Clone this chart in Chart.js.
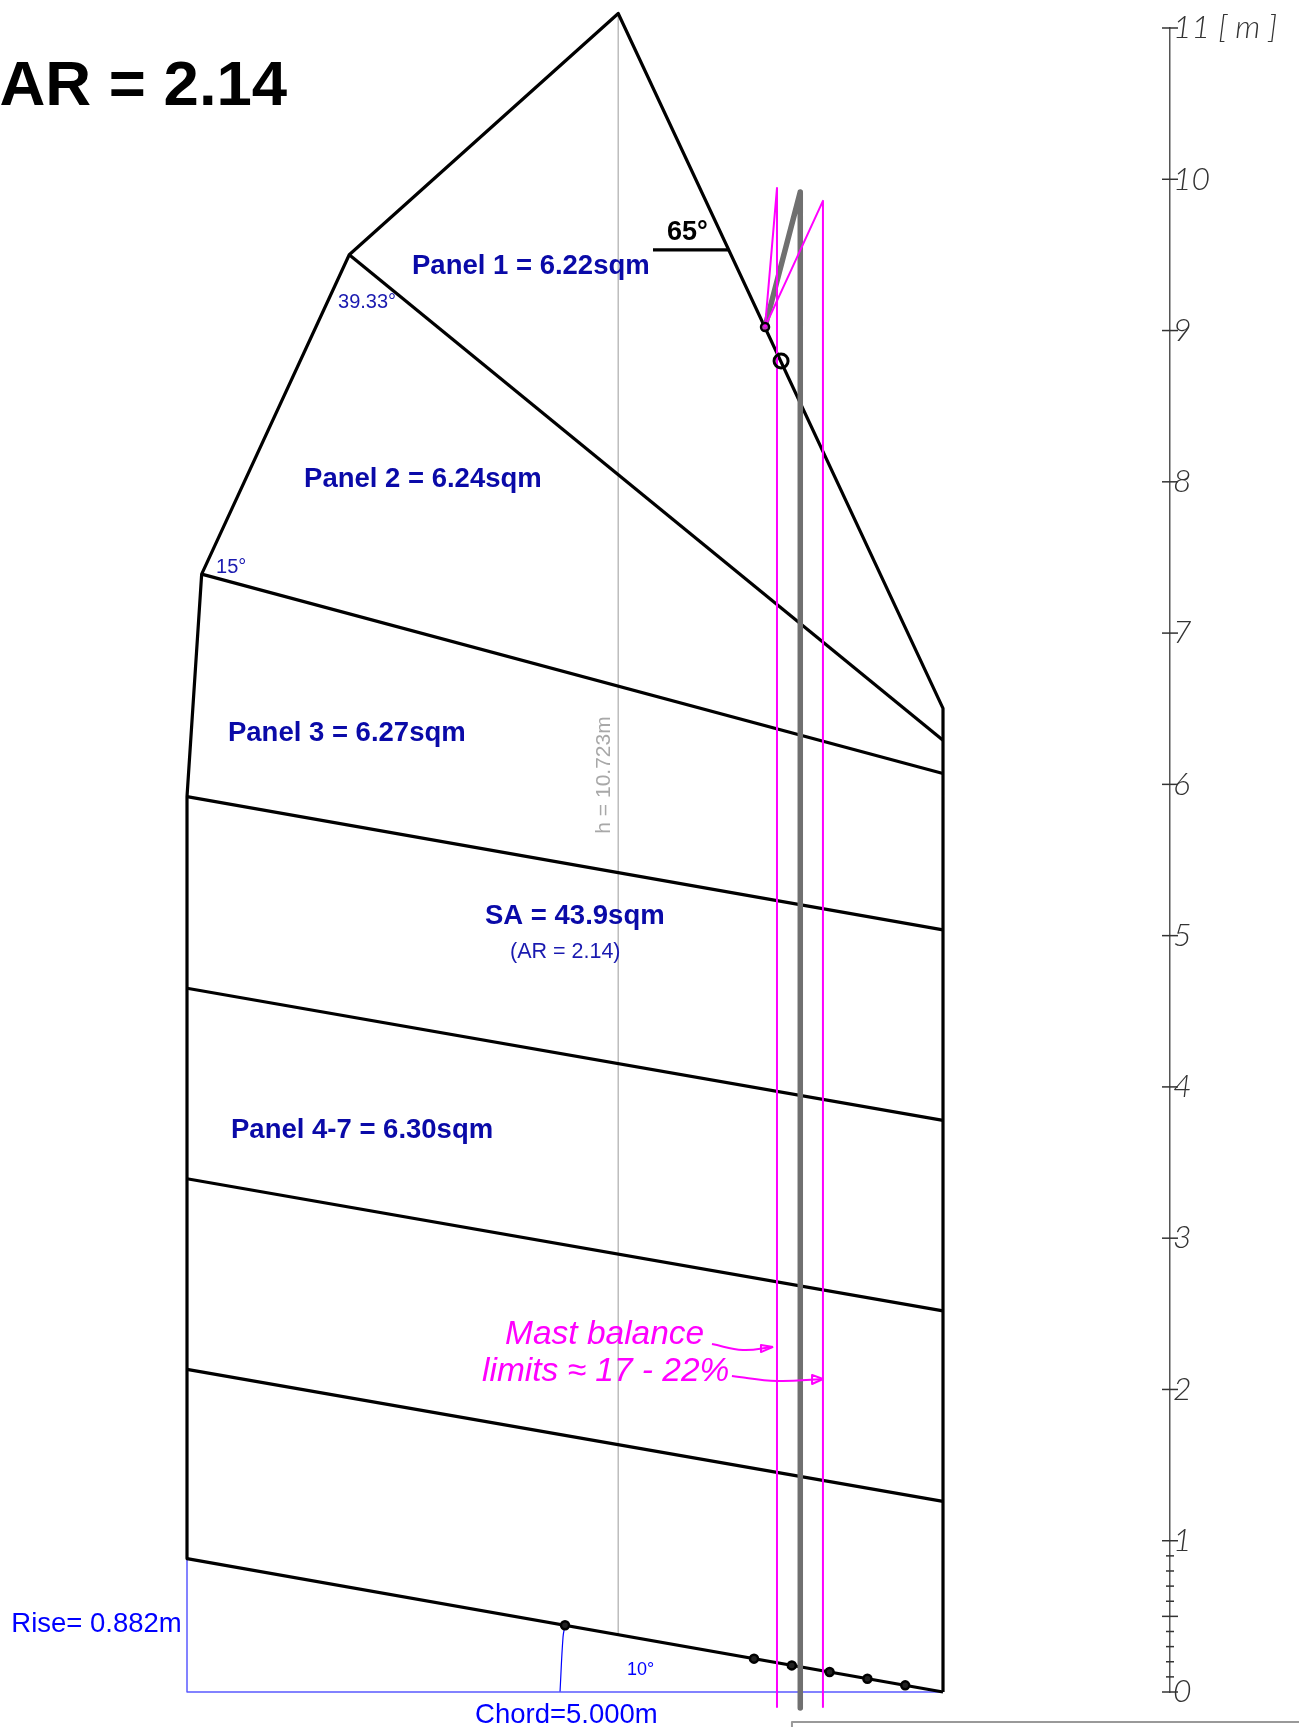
<!DOCTYPE html>
<html>
<head>
<meta charset="utf-8">
<title>AR = 2.14</title>
<style>
  html, body { margin: 0; background: #fff; }
  canvas { display: block; }
</style>
<script src="https://cdn.jsdelivr.net/npm/chart.js@4"></script>
</head>
<body>
<canvas id="myChart" width="1299" height="1727"></canvas>
<script>
// all values in metres
const outlineX = [5, 5, 2.852, 1.073, 0.097, 0, 0];
const outlineY = [0, 6.502, 11.096, 9.501, 7.39, 5.919, 0.882];

// battens and yard, left end to right end
const seamLeftX = [1.073, 0.097, 0, 0, 0, 0, 0];
const seamLeftY = [9.501, 7.39, 5.919, 4.652, 3.393, 2.133, 0.882];
const seamRightY = [6.291, 6.072, 5.038, 3.779, 2.519, 1.26, 0];

const boomDotsX = [2.5, 3.75, 4, 4.25, 4.5, 4.75];
const boomDotsY = [0.441, 0.2205, 0.176, 0.132, 0.088, 0.044];

const heightLineX = [2.852, 2.852];
const heightLineY = [11.096, 0.379];

const mastX = [3.823, 4.056, 4.056];
const mastY = [9.024, 9.916, -0.106];

const limitFwdX = [3.823, 3.902, 3.902];
const limitFwdY = [9.024, 9.942, -0.099];
const limitAftX = [3.823, 4.206, 4.206];
const limitAftY = [9.024, 9.857, -0.099];

const parrelX = [3.823];
const parrelY = [9.024];
const pivotX = [3.929];
const pivotY = [8.799];

const angleLineX = [3.082, 3.585];
const angleLineY = [9.533, 9.533];

const riseX = [0, 0, 5];
const riseY = [0.882, 0, 0];
const arcX = [2.5, 2.487, 2.467];
const arcY = [0.441, 0.364, 0];

const arrow1X = [3.472, 3.677, 3.876];
const arrow1Y = [2.3, 2.261, 2.281];
const head1X = [3.876, 3.796, 3.796, 3.876];
const head1Y = [2.281, 2.294, 2.247, 2.281];
const arrow2X = [3.604, 3.902, 4.206];
const arrow2Y = [2.089, 2.056, 2.069];
const head2X = [4.206, 4.134, 4.134, 4.206];
const head2Y = [2.069, 2.096, 2.036, 2.069];

const frameX = [4.001, 4.001, 7.36];
const frameY = [-0.24, -0.198, -0.198];

const rulerLabels = ["0", "1", "2", "3", "4", "5", "6", "7", "8", "9", "10", "11 [ m ]"];
const rulerMajor = [0, 0.5, 1, 2, 3, 4, 5, 6, 7, 8, 9, 10, 11];
const rulerMinor = [0.1, 0.2, 0.3, 0.4, 0.6, 0.7, 0.8, 0.9];

const rulerAt = 6.5013;
const BLACK = "#000";
const PINK = "#ff00ff";
const GREY = "#707070";
const BLUE = "#0000ff";
const NAVY = "#0a0aa8";
const ARIAL = '"Liberation Sans", Arial, sans-serif';

const notes = [
  { text: "AR = 2.14", x: -1.24, y: 10.61, font: `bold 63.5px ${ARIAL}`, color: BLACK },
  { text: "Panel 1 = 6.22sqm", x: 1.488, y: 9.427, font: `bold 27.5px ${ARIAL}`, color: NAVY },
  { text: "Panel 2 = 6.24sqm", x: 0.774, y: 8.019, font: `bold 27.5px ${ARIAL}`, color: NAVY },
  { text: "Panel 3 = 6.27sqm", x: 0.271, y: 6.34, font: `bold 27.5px ${ARIAL}`, color: NAVY },
  { text: "SA = 43.9sqm", x: 1.971, y: 5.13, font: `bold 27.5px ${ARIAL}`, color: NAVY },
  { text: "(AR = 2.14)", x: 2.136, y: 4.892, font: `21.5px ${ARIAL}`, color: "#1a1ab0" },
  { text: "Panel 4-7 = 6.30sqm", x: 0.291, y: 3.715, font: `bold 27.5px ${ARIAL}`, color: NAVY },
  { text: "39.33°", x: 0.999, y: 9.185, font: `20px ${ARIAL}`, color: "#1a1ab0" },
  { text: "15°", x: 0.192, y: 7.437, font: `20px ${ARIAL}`, color: "#1a1ab0" },
  { text: "65°", x: 3.175, y: 9.645, font: `bold 27px ${ARIAL}`, color: BLACK },
  { text: "h = 10.723m", x: 2.759, y: 6.062, font: `21px ${ARIAL}`, color: "#a8a8a8", rotate: -Math.PI / 2 },
  { text: "Rise= 0.882m", x: -1.162, y: 0.45, font: `27.5px ${ARIAL}`, color: BLUE },
  { text: "Chord=5.000m", x: 1.905, y: -0.152, font: `27.5px ${ARIAL}`, color: BLUE },
  { text: "10°", x: 2.91, y: 0.146, font: `18px ${ARIAL}`, color: BLUE },
  { text: "Mast balance", x: 2.103, y: 2.36, font: `italic 33.5px ${ARIAL}`, color: PINK },
  { text: "limits ≈ 17 - 22%", x: 1.951, y: 2.116, font: `italic 33.5px ${ARIAL}`, color: PINK },
];

function pts(xs, ys) {
  return xs.map((x, i) => ({ x, y: ys[i] }));
}

function line(xs, ys, color, width, extra) {
  return Object.assign({
    type: "line",
    data: pts(xs, ys),
    borderColor: color,
    borderWidth: width,
    pointRadius: 0,
    fill: false,
    clip: false,
    borderJoinStyle: "round",
  }, extra);
}

function dots(xs, ys, radius, width, fill) {
  return {
    type: "scatter",
    data: pts(xs, ys),
    pointRadius: radius,
    pointBorderWidth: width,
    pointBorderColor: BLACK,
    pointBackgroundColor: fill,
    clip: false,
  };
}

function rulerTicks(values, radius, width) {
  return {
    type: "scatter",
    data: values.map((y) => ({ x: rulerAt, y })),
    pointStyle: "line",
    pointRadius: radius,
    pointBorderWidth: width,
    pointBorderColor: "#333",
    clip: false,
  };
}

const seams = seamLeftX.map((x, i) => line([x, 5], [seamLeftY[i], seamRightY[i]], BLACK, 3.2));

// first dataset ends up on top
const datasets = [
  dots(parrelX, parrelY, 4, 2.5, "rgba(255,0,255,0.5)"),
  dots(pivotX, pivotY, 7, 3, "rgba(0,0,0,0)"),
  dots(boomDotsX, boomDotsY, 4, 2.5, "#222"),
  line(arrow1X, arrow1Y, PINK, 2, { tension: 0.4 }),
  line(head1X, head1Y, PINK, 2),
  line(arrow2X, arrow2Y, PINK, 2, { tension: 0.4 }),
  line(head2X, head2Y, PINK, 2),
  line(limitFwdX, limitFwdY, PINK, 2),
  line(limitAftX, limitAftY, PINK, 2),
  line(mastX, mastY, GREY, 5.5, { borderCapStyle: "round" }),
  line(outlineX, outlineY, BLACK, 3.2),
  ...seams,
  line(angleLineX, angleLineY, BLACK, 3.2),
  line(heightLineX, heightLineY, "#bdbdbd", 1.5),
  line(riseX, riseY, "#5a5aff", 1.5),
  line(arcX, arcY, BLUE, 1.2, { tension: 0.4 }),
  line(frameX, frameY, "#999", 2),
  rulerTicks(rulerMajor, 8, 1.5),
  rulerTicks(rulerMinor, 4, 1.5),
];

const drawNotes = {
  id: "drawNotes",
  afterDatasetsDraw(chart) {
    const { ctx, scales } = chart;
    notes.forEach((n) => {
      ctx.save();
      ctx.translate(scales.x.getPixelForValue(n.x), scales.y.getPixelForValue(n.y));
      if (n.rotate) ctx.rotate(n.rotate);
      ctx.font = n.font;
      ctx.fillStyle = n.color;
      ctx.textAlign = n.rotate ? "center" : "left";
      ctx.textBaseline = "middle";
      ctx.fillText(n.text, 0, 0);
      ctx.restore();
    });
  },
};

new Chart(document.getElementById("myChart"), {
  data: { datasets },
  plugins: [drawNotes],
  options: {
    responsive: false,
    animation: false,
    devicePixelRatio: 1,
    layout: { autoPadding: false, padding: { top: 28, bottom: 35, left: 0, right: 0 } },
    plugins: { legend: { display: false }, tooltip: { enabled: false } },
    scales: {
      x: { type: "linear", display: false, min: -1.2368, max: rulerAt },
      y: {
        type: "linear",
        position: "right",
        min: 0,
        max: 11,
        afterFit(scale) { scale.width = 129; },
        border: { display: true, color: "#555", width: 1.5 },
        grid: { drawOnChartArea: false, drawTicks: false },
        ticks: {
          stepSize: 1,
          autoSkip: false,
          padding: 3,
          color: "#333",
          font: { family: "Lato", size: 32, style: "italic", weight: "300" },
          callback: (v) => rulerLabels[v],
        },
      },
    },
  },
});
</script>
</body>
</html>
